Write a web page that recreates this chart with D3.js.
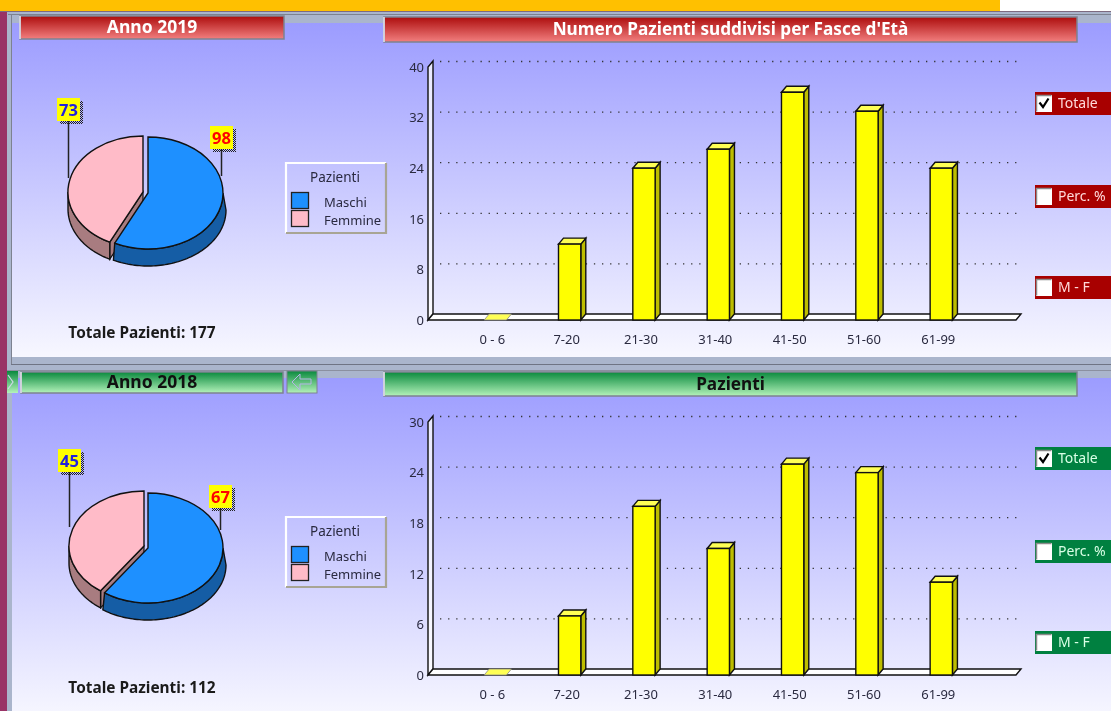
<!DOCTYPE html>
<html>
<head>
<meta charset="utf-8">
<script src="https://cdn.jsdelivr.net/npm/d3@7"></script>
<style>
  body { margin: 0; background: #fff; overflow: hidden; }
  svg { filter: blur(0.35px); }
  text { font-family: "Noto Sans", sans-serif; }
  .tick text { font-size: 13px; fill: #2a2a40; }
  .nonscale { vector-effect: non-scaling-stroke; }
</style>
</head>
<body>
<div class="canvas"></div>
<script>
// values
const ageGroups = ['0 - 6', '7-20', '21-30', '31-40', '41-50', '51-60', '61-99'];
const patients2019 = [0, 12, 24, 27, 36, 33, 24];
const patients2018 = [0, 7, 20, 15, 25, 24, 11];
const ticks2019 = [0, 8, 16, 24, 32, 40];
const ticks2018 = [0, 6, 12, 18, 24, 30];
const sexLabels = ['Maschi', 'Femmine'];
const sex2019 = [98, 73];
const sex2018 = [67, 45];
const toggles = ['Totale', 'Perc. %', 'M - F'];

const width = 1111, height = 711;

const svg = d3.select('.canvas')
  .append('svg')
    .attr('width', width)
    .attr('height', height);

const defs = svg.append('defs');

function gradient(id, stops) {
  const g = defs.append('linearGradient')
    .attr('id', id)
    .attr('x1', 0).attr('y1', 0).attr('x2', 0).attr('y2', 1);
  stops.forEach((c, i) => {
    g.append('stop').attr('offset', i / (stops.length - 1)).attr('stop-color', c);
  });
}
gradient('panelBg', ['#9c9cff', '#f7f7ff']);
gradient('headRed', ['#ad0d0d', '#f27f7f']);
gradient('headGreen', ['#0a8a3e', '#b4f2ba']);

// dithered label shadow
const dither = defs.append('pattern')
  .attr('id', 'dither')
  .attr('width', 2).attr('height', 2)
  .attr('patternUnits', 'userSpaceOnUse');
dither.append('rect').attr('width', 1).attr('height', 1).attr('fill', '#222');
dither.append('rect').attr('x', 1).attr('y', 1).attr('width', 1).attr('height', 1).attr('fill', '#222');

// page chrome
svg.append('rect').attr('width', 1000).attr('height', 11).attr('fill', '#ffc000');
svg.append('rect').attr('y', 11).attr('width', width).attr('height', height).attr('fill', '#aab5cc');
svg.append('rect').attr('y', 11).attr('width', 7).attr('height', height).attr('fill', '#993366');
svg.append('line').attr('x1', 0).attr('x2', width).attr('y1', 11.5).attr('y2', 11.5).attr('stroke', '#7d6a80');
svg.append('line').attr('x1', 8).attr('x2', width).attr('y1', 14.5).attr('y2', 14.5).attr('stroke', '#7d8290');
svg.append('line').attr('x1', 11.5).attr('x2', 11.5).attr('y1', 14).attr('y2', 364).attr('stroke', '#7d8290');
svg.append('line').attr('x1', 11).attr('x2', width).attr('y1', 364.5).attr('y2', 364.5).attr('stroke', '#6f7484');
svg.append('line').attr('x1', 7).attr('x2', width).attr('y1', 370.5).attr('y2', 370.5).attr('stroke', '#8b90a0');

function header(g, x, y, w, h, title, fillId, colour, size) {
  g.append('rect')
    .attr('x', x).attr('y', y).attr('width', w).attr('height', h)
    .attr('fill', `url(#${fillId})`)
    .attr('stroke', '#7d8290').attr('stroke-width', 1.5);
  g.append('line')
    .attr('x1', x).attr('x2', x).attr('y1', y).attr('y2', y + h)
    .attr('stroke', '#e8e8f0').attr('stroke-width', 1.5);
  g.append('text')
    .attr('x', x + w / 2).attr('y', y + h / 2 + 5.5)
    .attr('text-anchor', 'middle')
    .attr('font-weight', 'bold')
    .attr('font-size', size)
    .attr('fill', colour)
    .text(title);
}

function drawPie(g, values, cfg) {
  const pieData = d3.pie().sort(null)(values);
  const rx = 75, ratio = cfg.ry / rx, depth = 17;
  const arc = d3.arc().innerRadius(0).outerRadius(rx);
  const colours = ['#1e90ff', '#ffbbc8'];
  const darks = ['#155da5', '#a87c80'];
  const centres = [cfg.blue, cfg.pink];

  const rim = (c, t, r, dy) => [c[0] + r * Math.sin(t), c[1] - rx * ratio * Math.cos(t) + dy];

  // radial cut of the pink slice shows through the gap
  const p0 = pieData[1].startAngle;
  const pc = centres[1];
  g.append('path')
    .attr('d', d3.line()([[pc[0], pc[1]], rim(pc, p0, rx, 0), rim(pc, p0, rx, depth), [pc[0], pc[1] + depth]]) + 'Z')
    .attr('fill', darks[1]).attr('stroke', '#111').attr('stroke-width', 1.2);

  // outer walls, only the part turned towards the viewer
  pieData.forEach((d, i) => {
    const a0 = Math.max(d.startAngle, Math.PI / 2);
    const a1 = Math.min(d.endAngle, Math.PI * 1.5);
    if (a1 <= a0) return;
    const steps = d3.range(a0, a1, 0.03).concat([a1]);
    const grow = i === 0 ? 3 : 0;
    const top = steps.map(t => rim(centres[i], t, rx, 0));
    const bottom = steps.map(t => rim(centres[i], t, rx + grow, depth)).reverse();
    g.append('path')
      .attr('d', d3.line()(top.concat(bottom)) + 'Z')
      .attr('fill', darks[i]).attr('stroke', '#111').attr('stroke-width', 1.4);
  });

  // pink first, blue on top of it
  [1, 0].forEach(i => {
    g.append('path')
      .attr('class', 'nonscale')
      .attr('d', arc(pieData[i]))
      .attr('transform', `translate(${centres[i][0]},${centres[i][1]}) scale(1,${ratio})`)
      .attr('fill', colours[i])
      .attr('stroke', '#111')
      .attr('stroke-width', 1.4);
  });

  // value flags
  cfg.flags.forEach((f, i) => {
    g.append('line')
      .attr('x1', f.x + 11.5).attr('x2', f.x + 11.5)
      .attr('y1', f.y + 23).attr('y2', f.lineTo)
      .attr('stroke', '#222').attr('stroke-width', 1.5);
    g.append('rect')
      .attr('x', f.x + 3).attr('y', f.y + 3).attr('width', 23).attr('height', 23)
      .attr('fill', 'url(#dither)');
    g.append('rect')
      .attr('x', f.x).attr('y', f.y).attr('width', 23).attr('height', 23)
      .attr('fill', '#ffff00');
    g.append('text')
      .attr('x', f.x + 11.5).attr('y', f.y + 17.5)
      .attr('text-anchor', 'middle')
      .attr('font-weight', 'bold').attr('font-size', 16.5)
      .attr('fill', i === 0 ? '#ff0000' : '#2222dd')
      .text(values[i]);
  });
}

function drawLegend(g, x, y, h) {
  g.append('path')
    .attr('d', `M${x},${y + h}V${y}H${x + 100}`)
    .attr('fill', 'none').attr('stroke', '#fff').attr('stroke-width', 2.2);
  g.append('path')
    .attr('d', `M${x},${y + h}H${x + 100}V${y}`)
    .attr('fill', 'none').attr('stroke', '#a8a594').attr('stroke-width', 2.2);
  g.append('text')
    .attr('x', x + 49).attr('y', y + 19)
    .attr('text-anchor', 'middle')
    .attr('font-size', 13.5).attr('fill', '#2a2a40')
    .text('Pazienti');
  sexLabels.forEach((s, i) => {
    g.append('rect')
      .attr('x', x + 5.5).attr('y', y + 29.5 + i * 18)
      .attr('width', 17).attr('height', 16)
      .attr('fill', i === 0 ? '#1e90ff' : '#ffbbc8')
      .attr('stroke', '#222').attr('stroke-width', 1.3);
    g.append('text')
      .attr('x', x + 38).attr('y', y + 44 + i * 18)
      .attr('font-size', 13).attr('fill', '#2a2a40')
      .text(s);
  });
}

function drawBars(g, values, ticks, top, bottom) {
  // front plane of the chart; the back wall sits up and to the right
  const dx = 5, dy = -6;
  const x = d3.scaleBand().domain(ageGroups).range([447, 989.6]).paddingInner(0.7).paddingOuter(0.5);
  const y = d3.scaleLinear().domain([0, d3.max(ticks)]).range([bottom, top]);
  const x0 = 428, x1 = 1016;

  // wall and floor
  g.append('path')
    .attr('d', `M${x0},${bottom}V${top}L${x0 + dx},${top + dy}V${bottom + dy}L${x0},${bottom}Z`)
    .attr('fill', '#fff').attr('fill-opacity', 0.75)
    .attr('stroke', '#111').attr('stroke-width', 1.4);
  g.append('path')
    .attr('d', `M${x0},${bottom}L${x0 + dx},${bottom + dy}H${x1 + dx}L${x1},${bottom}Z`)
    .attr('fill', '#fff')
    .attr('stroke', '#111').attr('stroke-width', 1.4);

  // dotted grid on the back plane
  g.selectAll('line.grid')
    .data(ticks.filter(t => t > 0))
    .enter().append('line')
    .attr('class', 'grid')
    .attr('x1', x0 + 12).attr('x2', x1 + 1)
    .attr('y1', d => y(d) + dy + 0.5).attr('y2', d => y(d) + dy + 0.5)
    .attr('stroke', '#333').attr('stroke-width', 1.3)
    .attr('stroke-dasharray', '1.3 6.8');

  // value axis
  const axis = g.append('g')
    .attr('transform', `translate(${x0},0)`)
    .call(d3.axisLeft(y).tickValues(ticks).tickSize(0).tickPadding(4));
  axis.select('.domain').remove();
  axis.selectAll('.tick text').attr('dy', '0.33em');

  // age labels
  const labels = g.append('g')
    .attr('transform', `translate(0,${bottom + 9})`)
    .call(d3.axisBottom(x).tickSize(0).tickPadding(6));
  labels.select('.domain').remove();
  labels.selectAll('.tick').attr('transform', d => `translate(${x(d) + x.bandwidth() / 2 - 3},0)`);

  const bars = g.selectAll('g.bar')
    .data(values.map((v, i) => ({ age: ageGroups[i], v })))
    .enter().append('g').attr('class', 'bar');

  const w = x.bandwidth();
  bars.filter(d => d.v > 0).append('path')
    .attr('d', d => `M${x(d.age) + w},${y(d.v)}L${x(d.age) + w + dx},${y(d.v) + dy}V${bottom + dy}L${x(d.age) + w},${bottom}Z`)
    .attr('fill', '#bdbd00').attr('stroke', '#111').attr('stroke-width', 1.4);
  bars.append('path')
    .attr('d', d => `M${x(d.age)},${y(d.v)}L${x(d.age) + dx},${y(d.v) + dy}H${x(d.age) + w + dx}L${x(d.age) + w},${y(d.v)}Z`)
    .attr('fill', '#ffff55').attr('stroke', d => d.v > 0 ? '#111' : '#888').attr('stroke-width', d => d.v > 0 ? 1.4 : 0.8);
  bars.filter(d => d.v > 0).append('rect')
    .attr('x', d => x(d.age)).attr('y', d => y(d.v))
    .attr('width', w).attr('height', d => bottom - y(d.v))
    .attr('fill', '#ffff00').attr('stroke', '#111').attr('stroke-width', 1.4);
}

function drawToggles(g, rows, colour, textColour) {
  toggles.forEach((t, i) => {
    const yy = rows[i];
    g.append('rect')
      .attr('x', 1035).attr('y', yy).attr('width', 76).attr('height', 23)
      .attr('fill', colour);
    g.append('rect')
      .attr('x', 1036).attr('y', yy + 3).attr('width', 16).attr('height', 17)
      .attr('fill', '#fff');
    g.append('path')
      .attr('d', `M1036.5,${yy + 19.5}V${yy + 3.5}H1051.5`)
      .attr('fill', 'none').attr('stroke', '#8a8a8a').attr('stroke-width', 1.5);
    if (i === 0) {
      g.append('path')
        .attr('d', `M1039.5,${yy + 10.5}L1043,${yy + 15}L1048.5,${yy + 6.5}`)
        .attr('fill', 'none').attr('stroke', '#000').attr('stroke-width', 2.2);
    }
    g.append('text')
      .attr('x', 1058).attr('y', yy + 16)
      .attr('font-size', 14).attr('fill', textColour)
      .text(t);
  });
}

// 2019 panel
const topPanel = svg.append('g');
topPanel.append('rect')
  .attr('x', 12).attr('y', 23).attr('width', width).attr('height', 334)
  .attr('fill', 'url(#panelBg)');
header(topPanel, 20, 16, 264, 23, 'Anno 2019', 'headRed', '#fff', 17.5);
header(topPanel, 384, 17, 693, 25, "Numero Pazienti suddivisi per Fasce d'Età", 'headRed', '#fff', 17.2);
drawPie(topPanel, sex2019, {
  blue: [148, 193], pink: [143, 192], ry: 56,
  flags: [{ x: 210, y: 126, lineTo: 176 }, { x: 57, y: 98, lineTo: 178 }]
});
drawLegend(topPanel, 286, 163, 70);
topPanel.append('text')
  .attr('x', 142).attr('y', 338)
  .attr('text-anchor', 'middle')
  .attr('font-weight', 'bold').attr('font-size', 15.4).attr('fill', '#1a1a1a')
  .text('Totale Pazienti: 177');
drawBars(topPanel, patients2019, ticks2019, 67, 320);
drawToggles(topPanel, [92, 185, 276], '#a80000', '#ffd9d9');

// 2018 panel
const lowPanel = svg.append('g');
lowPanel.append('rect')
  .attr('x', 12).attr('y', 378).attr('width', width).attr('height', 340)
  .attr('fill', 'url(#panelBg)');
lowPanel.append('rect')
  .attr('x', 7).attr('y', 371).attr('width', 11).attr('height', 22)
  .attr('fill', 'url(#headGreen)');
lowPanel.append('path')
  .attr('d', 'M8,375L13,382L8,389')
  .attr('fill', 'none').attr('stroke', '#cfd8e8').attr('stroke-width', 1.2);
header(lowPanel, 21, 372, 262, 21, 'Anno 2018', 'headGreen', '#111', 17.5);
header(lowPanel, 384, 372, 693, 24, 'Pazienti', 'headGreen', '#111', 17.2);
lowPanel.append('rect')
  .attr('x', 287).attr('y', 371).attr('width', 30).attr('height', 22)
  .attr('fill', 'url(#headGreen)').attr('stroke', '#7d8290');
lowPanel.append('path')
  .attr('d', 'M292,382L300,374V379H311V384H300V390Z')
  .attr('fill', 'none').attr('stroke', '#b4b4e6').attr('stroke-width', 1);
drawPie(lowPanel, sex2018, {
  blue: [148, 548], pink: [144, 546], ry: 55,
  flags: [{ x: 209, y: 485, lineTo: 530 }, { x: 58, y: 449, lineTo: 527 }]
});
drawLegend(lowPanel, 286, 517, 70);
lowPanel.append('text')
  .attr('x', 142).attr('y', 693)
  .attr('text-anchor', 'middle')
  .attr('font-weight', 'bold').attr('font-size', 15.4).attr('fill', '#1a1a1a')
  .text('Totale Pazienti: 112');
drawBars(lowPanel, patients2018, ticks2018, 422, 675);
drawToggles(lowPanel, [447, 540, 631], '#008040', '#d9ffe6');
</script>
</body>
</html>
